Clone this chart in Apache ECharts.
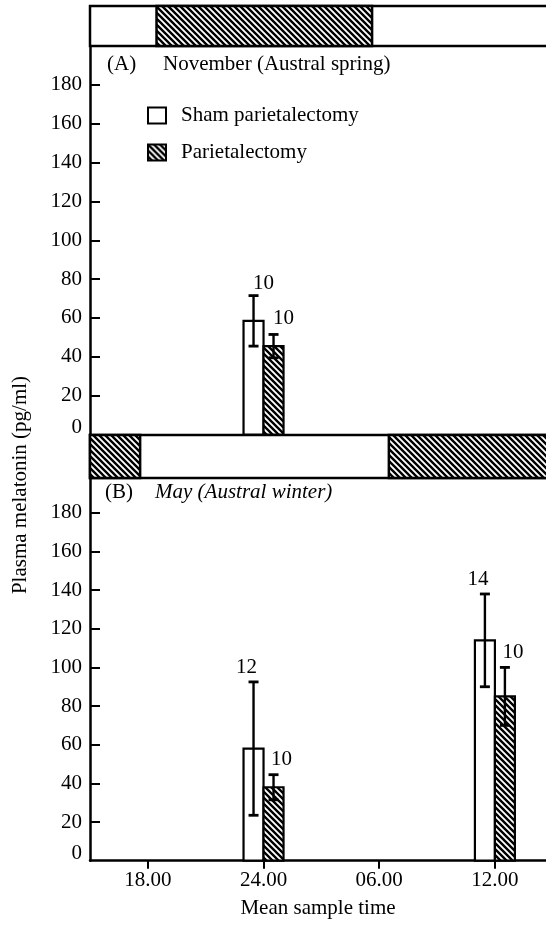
<!DOCTYPE html>
<html><head><meta charset="utf-8">
<script src="https://cdn.jsdelivr.net/npm/echarts@6/dist/echarts.min.js"></script>
<style>html,body{margin:0;padding:0;background:#fff}#c{width:546px;height:932px}</style>
</head><body><div id="c"></div>
<script>
// ---------- data ----------
const xTickValues = [18, 24, 30, 36];            // hours (30 = 06.00, 36 = 12.00 next day)
const xTickLabels = ['18.00', '24.00', '06.00', '12.00'];
const yTickValues = [0, 20, 40, 60, 80, 100, 120, 140, 160, 180];

// Panel A: November (Austral spring)
const timesA = [24];
const shamA = [58.5];
const shamAErr = [13];
const shamAN = [10];
const parA = [45.5];
const parAErr = [6];
const parAN = [10];

// Panel B: May (Austral winter)
const timesB = [24, 36];
const shamB = [58, 114];
const shamBErr = [34.5, 24];
const shamBN = [12, 14];
const parB = [38, 85];
const parBErr = [6.5, 15];
const parBN = [10, 10];

// photoperiod dark phases (hours)
const darkA = [[18.45, 29.63]];
const darkB = [[15, 17.6], [30.5, 42]];

// ---------- style / layout ----------
const FONT = "'Liberation Serif', 'DejaVu Serif', serif";
const FS = 21;
const XMIN = 15, XMAX = 38.65;
const BW = 20, CAP = 10;
const labelShift = {
  shamA: [10, -12], parA: [10, -16],
  shamB: [-7, -14], parB: [8, -15]
};

function makeHatch() {
  const s = 6, c = document.createElement('canvas');
  c.width = s; c.height = s;
  const g = c.getContext('2d');
  g.fillStyle = '#fff'; g.fillRect(0, 0, s, s);
  g.strokeStyle = '#000'; g.lineWidth = 2.4;
  g.beginPath();
  g.moveTo(-1, -1); g.lineTo(s + 1, s + 1);
  g.moveTo(-1, s - 1); g.lineTo(1, s + 1);
  g.moveTo(s - 1, -1); g.lineTo(s + 1, 1);
  g.stroke();
  return c;
}
const HATCH = { image: makeHatch(), repeat: 'repeat' };

const chart = echarts.init(document.getElementById('c'), null, { renderer: 'canvas' });

function frameSeries(idx) {
  return {
    type: 'custom', xAxisIndex: idx, yAxisIndex: idx, silent: true, z: 1,
    data: [[0]],
    renderItem: (params) => {
      const cs = params.coordSys;
      return { type: 'rect', shape: { x: cs.x, y: cs.y, width: cs.width + 20, height: cs.height },
        style: { fill: '#fff', stroke: '#000', lineWidth: 2.5 } };
    }
  };
}
function darkSeries(idx, arr) {
  return {
    type: 'custom', xAxisIndex: idx, yAxisIndex: idx, silent: true, z: 2,
    data: arr,
    renderItem: (params, api) => {
      const cs = params.coordSys;
      const p0 = api.coord([api.value(0), 1]);
      const p1 = api.coord([api.value(1), 0]);
      const x0 = Math.max(p0[0], cs.x);
      const x1 = Math.min(p1[0], cs.x + cs.width + 20);
      return { type: 'rect', shape: { x: x0, y: p0[1], width: x1 - x0, height: p1[1] - p0[1] },
        style: { fill: HATCH, stroke: '#000', lineWidth: 2.5 } };
    }
  };
}
function barSeries(name, idx, times, vals, errs, ns, side, fill, shift) {
  return {
    name, type: 'custom', xAxisIndex: idx, yAxisIndex: idx, z: 5,
    itemStyle: { color: fill, borderColor: '#000', borderWidth: 2 },
    data: times.map((t, i) => [t, vals[i], errs[i], ns[i]]),
    renderItem: (params, api) => {
      const t = api.value(0), v = api.value(1), e = api.value(2), n = api.value(3);
      const base = api.coord([t, 0]);
      const top = api.coord([t, v]);
      const eT = api.coord([t, v + e]);
      const eB = api.coord([t, v - e]);
      const x0 = side < 0 ? base[0] - BW : base[0];
      const cx = x0 + BW / 2;
      return { type: 'group', children: [
        { type: 'rect', shape: { x: x0, y: top[1], width: BW, height: base[1] - top[1] },
          style: { fill: fill, stroke: '#000', lineWidth: 2.2 } },
        { type: 'line', shape: { x1: cx, y1: eB[1], x2: cx, y2: eT[1] }, style: { stroke: '#000', lineWidth: 2.4 } },
        { type: 'line', shape: { x1: cx - CAP / 2, y1: eT[1], x2: cx + CAP / 2, y2: eT[1] }, style: { stroke: '#000', lineWidth: 2.8 } },
        { type: 'line', shape: { x1: cx - CAP / 2, y1: eB[1], x2: cx + CAP / 2, y2: eB[1] }, style: { stroke: '#000', lineWidth: 2.8 } },
        { type: 'text', x: cx + shift[0], y: eT[1] + shift[1],
          style: { text: String(n), fill: '#000', font: FS + 'px ' + FONT, textAlign: 'center', textVerticalAlign: 'middle' } }
      ] };
    }
  };
}

const gridL = 90, gridW = 456;
const grids = [
  { left: gridL, top: 6, width: gridW, height: 40 },
  { left: gridL, top: 46, width: gridW, height: 388.5 },
  { left: gridL, top: 435, width: gridW, height: 43 },
  { left: gridL, top: 478, width: gridW, height: 382.7 }
];
const hiddenX = (i) => ({ type: 'value', gridIndex: i, min: XMIN, max: XMAX, show: false });
const yLabelCfg = {
  customValues: yTickValues, color: '#000', fontFamily: FONT, fontSize: FS, margin: 8,
  formatter: (v) => v === 0 ? '{z|0}' : String(v),
  rich: { z: { fontFamily: FONT, fontSize: FS, color: '#000', padding: [0, 0, 14, 0] } }
};
const visibleY = (i, max) => ({
  type: 'value', gridIndex: i, min: 0, max: max,
  axisLine: { show: true, onZero: false, lineStyle: { color: '#000', width: 2.5 } },
  axisTick: { show: true, inside: true, length: 10, customValues: yTickValues.slice(1), lineStyle: { color: '#000', width: 2 } },
  axisLabel: yLabelCfg,
  splitLine: { show: false }
});

const option = {
  animation: false,
  backgroundColor: '#fff',
  grid: grids,
  xAxis: [
    hiddenX(0), hiddenX(1), hiddenX(2),
    { type: 'value', gridIndex: 3, min: XMIN, max: XMAX,
      axisLine: { show: true, onZero: false, lineStyle: { color: '#000', width: 2.5 } },
      axisTick: { show: true, inside: false, length: 8, customValues: xTickValues, lineStyle: { color: '#000', width: 2 } },
      axisLabel: { customValues: xTickValues, color: '#000', fontFamily: FONT, fontSize: FS, margin: 9,
        formatter: (v) => xTickLabels[xTickValues.indexOf(v)] || '' },
      splitLine: { show: false },
      name: 'Mean sample time', nameLocation: 'middle', nameGap: 37,
      nameTextStyle: { color: '#000', fontFamily: FONT, fontSize: FS }
    }
  ],
  yAxis: [
    { type: 'value', gridIndex: 0, min: 0, max: 1, show: false },
    visibleY(1, 200),
    { type: 'value', gridIndex: 2, min: 0, max: 1, show: false },
    visibleY(3, 198)
  ],
  legend: {
    data: ['Sham parietalectomy', 'Parietalectomy'],
    orient: 'vertical', left: 147, top: 105, padding: 0, itemWidth: 18, itemHeight: 16, itemGap: 16,
    icon: 'rect', selectedMode: false,
    itemStyle: { borderColor: '#000', borderWidth: 2 },
    textStyle: { color: '#000', fontFamily: FONT, fontSize: FS, padding: [0, 0, 0, 10] }
  },
  graphic: [
    { type: 'text', x: 107, y: 64, style: { text: '(A)', fill: '#000', font: FS + 'px ' + FONT, textVerticalAlign: 'middle' } },
    { type: 'text', x: 163, y: 64, style: { text: 'November (Austral spring)', fill: '#000', font: FS + 'px ' + FONT, textVerticalAlign: 'middle' } },
    { type: 'text', x: 105, y: 492, style: { text: '(B)', fill: '#000', font: FS + 'px ' + FONT, textVerticalAlign: 'middle' } },
    { type: 'text', x: 155, y: 492, style: { text: 'May (Austral winter)', fill: '#000', font: 'italic ' + FS + 'px ' + FONT, textVerticalAlign: 'middle' } },
    { type: 'text', x: 20, y: 485, rotation: Math.PI / 2,
      style: { text: 'Plasma melatonin (pg/ml)', fill: '#000', font: FS + 'px ' + FONT, textAlign: 'center', textVerticalAlign: 'middle' } }
  ],
  series: [
    frameSeries(0), darkSeries(0, darkA),
    frameSeries(2), darkSeries(2, darkB),
    barSeries('Sham parietalectomy', 1, timesA, shamA, shamAErr, shamAN, -1, '#fff', labelShift.shamA),
    barSeries('Parietalectomy', 1, timesA, parA, parAErr, parAN, 1, HATCH, labelShift.parA),
    barSeries('Sham parietalectomy', 3, timesB, shamB, shamBErr, shamBN, -1, '#fff', labelShift.shamB),
    barSeries('Parietalectomy', 3, timesB, parB, parBErr, parBN, 1, HATCH, labelShift.parB)
  ]
};
chart.setOption(option);
</script>
</body></html>
